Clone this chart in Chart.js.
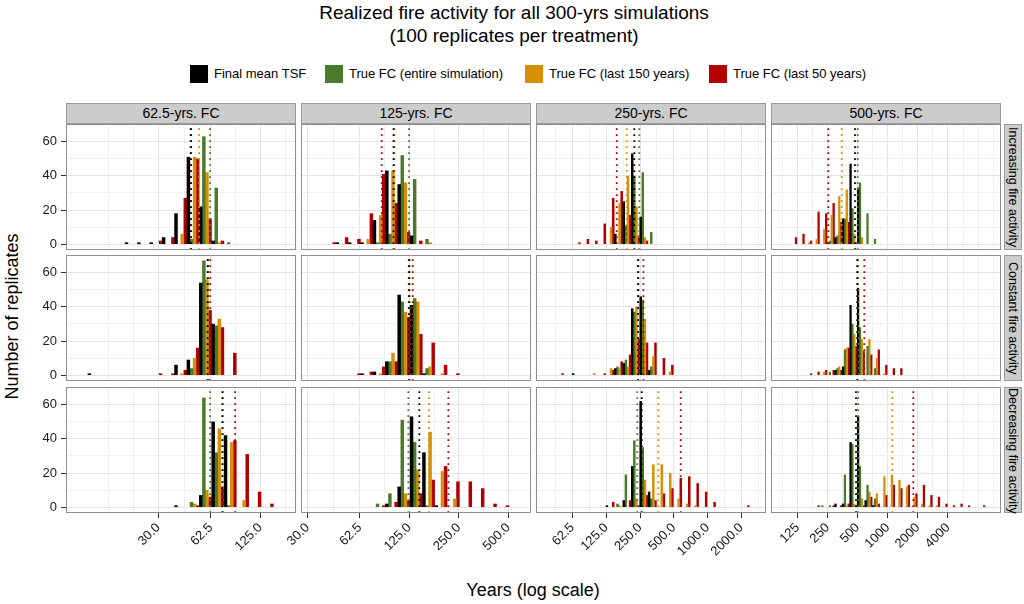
<!DOCTYPE html>
<html><head><meta charset="utf-8">
<script src="https://cdn.jsdelivr.net/npm/chart.js@4.4.1/dist/chart.umd.min.js"></script>
<style>
html,body{margin:0;padding:0;background:#fff;}
body{width:1024px;height:604px;position:relative;overflow:hidden;font-family:"Liberation Sans",Arial,Helvetica,sans-serif;color:#000;}
.abs{position:absolute;}
.title{left:2px;width:1024px;text-align:center;font-size:19px;line-height:23px;}
.key{width:18px;height:18px;}
.ltxt{font-size:13px;line-height:18px;white-space:nowrap;}
.strip{background:#cccccc;border:1px solid #999;box-sizing:border-box;font-size:14px;text-align:center;white-space:nowrap;}
.rstrip{background:#cccccc;border:1px solid #999;box-sizing:border-box;font-size:12.5px;writing-mode:vertical-rl;text-align:center;line-height:16px;white-space:nowrap;overflow:visible;}
</style></head>
<body>
<script>
// ---------------- DATA ----------------
const columnTitles = ["62.5-yrs. FC", "125-yrs. FC", "250-yrs. FC", "500-yrs. FC"];
const rowTitles = ["Increasing fire activity", "Constant fire activity", "Decreasing fire activity"];
const seriesNames = ["Final mean TSF", "True FC (entire simulation)", "True FC (last 150 years)", "True FC (last 50 years)"];
const seriesColors = ["#000000", "#4b7b2a", "#d68f06", "#b20000"];

// histogram bins: centre of first bin (years) per column, bins 1/4 doubling wide
const firstBinYears = [12.19, 40.9, 47.8, 113.2];
const binStepLog2 = 0.25;

// x range (years) per column, y range (replicates)
const xMinYears = [8.24, 27.4, 29.6, 67.9];
const xMaxYears = [206, 687, 3313, 13560];
const yMin = -3.35, yMax = 70.35;

// grid positions (years) and tick labels per column
const gridYears = [
  [15, 21.2, 30, 43.3, 62.5, 88.4, 125, 176.8],
  [30, 43.3, 62.5, 88.4, 125, 176.8, 250, 353.6, 500],
  [44.2, 62.5, 88.4, 125, 176.8, 250, 353.6, 500, 707, 1000, 1414, 2000, 2828],
  [88.4, 125, 176.8, 250, 353.6, 500, 707, 1000, 1414, 2000, 2828, 4000, 5657, 8000, 11314]
];
const tickYears = [
  [30, 62.5, 125],
  [30, 62.5, 125, 250, 500],
  [62.5, 125, 250, 500, 1000, 2000],
  [125, 250, 500, 1000, 2000, 4000]
];
const tickLabels = [
  ["30.0", "62.5", "125.0"],
  ["30.0", "62.5", "125.0", "250.0", "500.0"],
  ["62.5", "125.0", "250.0", "500.0", "1000.0", "2000.0"],
  ["125", "250", "500", "1000", "2000", "4000"]
];
const yGrid = [0, 10, 20, 30, 40, 50, 60, 70];
const yTicks = [0, 20, 40, 60];

// counts per bin: [Final mean TSF, entire simulation, last 150, last 50]
const c62_inc_tsf = [0,0,0,1,1,1,4,18,51,22,2,0,0,0,0];
const c62_inc_all = [0,0,0,0,0,0,0,0,3,63,33,1,0,0,0];
const c62_inc_150 = [0,0,0,0,0,0,0,6,51,42,1,0,0,0,0];
const c62_inc_50  = [0,0,0,0,0,2,4,27,50,15,2,0,0,0,0];
const c62_con_tsf = [1,0,0,0,0,0,0,6,9,54,30,0,0,0,0];
const c62_con_all = [0,0,0,0,0,0,0,0,4,67,29,0,0,0,0];
const c62_con_150 = [0,0,0,0,0,0,0,1,10,56,33,0,0,0,0];
const c62_con_50  = [0,0,0,0,0,1,1,3,16,38,28,13,0,0,0];
const c62_dec_tsf = [0,0,0,0,0,0,0,1,0,7,50,42,0,0,0];
const c62_dec_all = [0,0,0,0,0,0,0,0,3,64,32,1,0,0,0];
const c62_dec_150 = [0,0,0,0,0,0,0,0,2,10,46,38,4,0,0];
const c62_dec_50  = [0,0,0,0,0,0,0,0,1,6,12,39,31,9,2];

const c125_inc_tsf = [0,1,1,1,14,43,35,5,0,0,0,0,0,0,0];
const c125_inc_all = [0,0,0,0,1,6,52,38,3,0,0,0,0,0,0];
const c125_inc_150 = [0,0,0,3,17,43,36,0,1,0,0,0,0,0,0];
const c125_inc_50  = [1,4,3,18,41,24,7,2,0,0,0,0,0,0,0];
const c125_con_tsf = [0,0,0,1,2,8,47,41,1,0,0,0,0,0,0];
const c125_con_all = [0,0,0,0,0,8,43,45,4,0,0,0,0,0,0];
const c125_con_150 = [0,0,0,0,1,13,37,43,5,1,0,0,0,0,0];
const c125_con_50  = [0,0,1,2,5,8,34,24,19,6,1,0,0,0,0];
const c125_dec_tsf = [0,0,0,0,0,2,12,53,32,1,0,0,0,0,0];
const c125_dec_all = [0,0,0,0,2,8,51,38,1,0,0,0,0,0,0];
const c125_dec_150 = [0,0,0,0,0,0,8,22,44,21,5,0,0,0,0];
const c125_dec_50  = [0,0,0,0,1,3,4,8,16,24,15,15,11,2,1];

const c250_inc_tsf = [0,0,0,0,0,0,0,6,25,53,16,0,0,0,0,0,0,0,0,0,0,0,0];
const c250_inc_all = [0,0,0,0,0,0,0,0,11,40,42,7,0,0,0,0,0,0,0,0,0,0,0];
const c250_inc_150 = [0,0,0,0,0,0,10,24,40,22,4,0,0,0,0,0,0,0,0,0,0,0,0];
const c250_inc_50  = [0,0,1,3,2,12,27,31,17,5,2,0,0,0,0,0,0,0,0,0,0,0,0];
const c250_con_tsf = [0,0,1,0,0,0,0,4,7,39,46,3,0,0,0,0,0,0,0,0,0,0,0];
const c250_con_all = [0,0,0,0,0,0,0,5,9,37,44,5,0,0,0,0,0,0,0,0,0,0,0];
const c250_con_150 = [0,0,0,0,1,0,4,4,5,40,33,11,0,2,0,0,0,0,0,0,0,0,0];
const c250_con_50  = [1,0,0,0,0,1,3,8,12,21,19,19,10,6,0,0,0,0,0,0,0,0,0];
const c250_dec_tsf = [0,0,0,0,0,0,1,0,4,24,62,9,0,0,0,0,0,0,0,0,0,0,0];
const c250_dec_all = [0,0,0,0,0,0,0,2,19,39,35,5,0,0,0,0,0,0,0,0,0,0,0];
const c250_dec_150 = [0,0,0,0,0,0,0,1,0,5,16,25,25,20,5,2,1,0,0,0,0,0,0];
const c250_dec_50  = [0,0,0,0,0,0,3,0,4,1,7,4,8,11,17,18,14,9,3,0,0,0,1];

const c500_inc_tsf = [0,0,0,0,0,1,4,15,47,33,0,0,0,0,0,0,0,0,0,0,0,0,0,0,0,0];
const c500_inc_all = [0,0,0,0,0,2,5,15,21,36,18,3,0,0,0,0,0,0,0,0,0,0,0,0,0,0];
const c500_inc_150 = [0,0,1,3,9,17,28,32,6,4,0,0,0,0,0,0,0,0,0,0,0,0,0,0,0,0];
const c500_inc_50  = [4,6,2,19,18,24,13,13,1,0,0,0,0,0,0,0,0,0,0,0,0,0,0,0,0,0];
const c500_con_tsf = [0,0,0,0,0,0,3,5,41,51,0,0,0,0,0,0,0,0,0,0,0,0,0,0,0,0];
const c500_con_all = [0,0,0,0,0,2,4,15,30,28,17,4,0,0,0,0,0,0,0,0,0,0,0,0,0,0];
const c500_con_150 = [0,0,0,0,2,0,5,16,24,21,21,10,1,0,0,0,0,0,0,0,0,0,0,0,0,0];
const c500_con_50  = [0,0,1,2,3,3,3,16,17,14,12,15,6,4,4,0,0,0,0,0,0,0,0,0,0,0];
const c500_dec_tsf = [0,0,0,0,0,0,2,2,38,53,4,1,0,0,0,0,0,0,0,0,0,0,0,0,0,0];
const c500_dec_all = [0,0,0,0,1,1,0,19,37,24,13,5,0,0,0,0,0,0,0,0,0,0,0,0,0,0];
const c500_dec_150 = [0,0,0,0,0,0,0,1,2,5,9,8,18,19,16,12,6,2,1,1,0,0,0,0,0,0];
const c500_dec_50  = [0,0,0,1,0,1,1,2,1,1,6,2,7,13,11,13,8,13,7,6,2,1,2,1,0,1];

// mean values (years) shown as dotted lines: [TSF, entire, last 150, last 50]
const m62_inc = [47.4, 61.9, 53.1, 47.1];
const m62_con = [59.8, 60.2, 60.6, 62.0];
const m62_dec = [73.5, 61.9, 74.3, 87.9];
const m125_inc = [100.2, 124.5, 101.6, 84.9];
const m125_con = [124.0, 125.0, 125.5, 131.0];
const m125_dec = [143.8, 123.3, 164.7, 215.9];
const m250_inc = [222.4, 246.4, 190.4, 155.1];
const m250_con = [240, 241, 243, 268];
const m250_dec = [258.9, 236.6, 363.8, 576];
const m500_inc = [469.9, 500, 345.9, 254.1];
const m500_con = [495, 500, 505, 582];
const m500_dec = [481, 507, 1110, 1799];

const panelCounts = [
  [[c62_inc_tsf,c62_inc_all,c62_inc_150,c62_inc_50],[c125_inc_tsf,c125_inc_all,c125_inc_150,c125_inc_50],[c250_inc_tsf,c250_inc_all,c250_inc_150,c250_inc_50],[c500_inc_tsf,c500_inc_all,c500_inc_150,c500_inc_50]],
  [[c62_con_tsf,c62_con_all,c62_con_150,c62_con_50],[c125_con_tsf,c125_con_all,c125_con_150,c125_con_50],[c250_con_tsf,c250_con_all,c250_con_150,c250_con_50],[c500_con_tsf,c500_con_all,c500_con_150,c500_con_50]],
  [[c62_dec_tsf,c62_dec_all,c62_dec_150,c62_dec_50],[c125_dec_tsf,c125_dec_all,c125_dec_150,c125_dec_50],[c250_dec_tsf,c250_dec_all,c250_dec_150,c250_dec_50],[c500_dec_tsf,c500_dec_all,c500_dec_150,c500_dec_50]]
];
const panelMeans = [
  [m62_inc, m125_inc, m250_inc, m500_inc],
  [m62_con, m125_con, m250_con, m500_con],
  [m62_dec, m125_dec, m250_dec, m500_dec]
];

// ---------------- LAYOUT ----------------
const FONT = "'Liberation Sans', Arial, Helvetica, sans-serif";
const panelLeft = [66, 301, 536, 771];
const panelTop = [124, 255, 387];
const panelW = 230, panelH = 126;
const PAGE_H = 604;
const BOTTOM_SIDE_ROOM = 40;   // room left of bottom-row panels for rotated tick labels

function el(cls, css, text) {
  const d = document.createElement('div');
  d.className = 'abs ' + (cls || '');
  Object.assign(d.style, css);
  if (text !== undefined) d.textContent = text;
  document.body.appendChild(d);
  return d;
}

// Titles
el('title', {top: '1px'}, 'Realized fire activity for all 300-yrs simulations');
el('title', {top: '24px'}, '(100 replicates per treatment)');

// Legend
const keyLeft = [190, 325, 525, 709];
seriesNames.forEach((n, i) => {
  el('key', {left: keyLeft[i] + 'px', top: '65px', background: seriesColors[i]});
  el('ltxt', {left: (keyLeft[i] + 24) + 'px', top: '65px'}, n);
});

// Axis titles
el('', {left: '0px', width: '1066px', top: '580px', textAlign: 'center', fontSize: '18px'}, 'Years (log scale)');
el('', {left: '-88px', top: '306px', width: '200px', textAlign: 'center', fontSize: '18px', transform: 'rotate(-90deg)'}, 'Number of replicates');

// Strips
columnTitles.forEach((t, c) => {
  el('strip', {left: panelLeft[c] + 'px', top: '103px', width: panelW + 'px', height: '21px', lineHeight: '19px'}, t);
});
rowTitles.forEach((t, r) => {
  el('rstrip', {left: '1004px', top: panelTop[r] + 'px', width: '18px', height: panelH + 'px'}, t);
});

// Panel border plugin
const borderPlugin = {
  id: 'panelBorder',
  afterDraw(chart) {
    const a = chart.chartArea, ctx = chart.ctx;
    ctx.save();
    ctx.strokeStyle = '#8f8f8f';
    ctx.lineWidth = 1;
    ctx.strokeRect(a.left + 0.5, a.top + 0.5, a.right - a.left - 1, a.bottom - a.top - 1);
    ctx.restore();
  }
};

Chart.defaults.font.family = FONT;

function makePanel(r, c) {
  const isLeft = c === 0, isBottom = r === 2;
  const extraL = isLeft ? panelLeft[0] : (isBottom ? BOTTOM_SIDE_ROOM : 0);
  const extraB = isBottom ? PAGE_H - (panelTop[2] + panelH) : 0;
  const w = panelW + extraL, h = panelH + extraB;
  const cv = document.createElement('canvas');
  cv.width = w; cv.height = h;
  cv.className = 'abs';
  cv.style.left = (panelLeft[c] - extraL) + 'px';
  cv.style.top = panelTop[r] + 'px';
  cv.style.width = w + 'px'; cv.style.height = h + 'px';
  document.body.appendChild(cv);

  const base = Math.log2(firstBinYears[c]);
  const datasets = [];
  panelCounts[r][c].forEach((arr, s) => {
    datasets.push({
      type: 'bar', label: seriesNames[s],
      data: arr.map((v, i) => ({x: base + i * binStepLog2, y: v === 0 ? null : v})),
      backgroundColor: seriesColors[s], borderWidth: 0, inflateAmount: 0.2,
      barPercentage: 1, categoryPercentage: 1, order: 2
    });
  });
  panelMeans[r][c].forEach((m, s) => {
    datasets.push({
      type: 'line', label: seriesNames[s] + ' mean',
      data: [{x: Math.log2(m), y: yMin}, {x: Math.log2(m), y: yMax}],
      borderColor: seriesColors[s], borderWidth: 1.8, borderDash: [1.8, 4.2],
      pointRadius: 0, fill: false, order: 0
    });
  });

  const gridL = gridYears[c].map(v => Math.log2(v));
  const labelFor = gridYears[c].map(v => {
    const k = tickYears[c].indexOf(v);
    return k >= 0 ? tickLabels[c][k] : '';
  });

  new Chart(cv, {
    type: 'bar',
    data: {datasets},
    plugins: [borderPlugin],
    options: {
      responsive: false, animation: false, events: [],
      devicePixelRatio: 1,
      layout: {padding: 0},
      plugins: {legend: {display: false}, tooltip: {enabled: false}, title: {display: false}},
      scales: {
        x: {
          type: 'linear', offset: false,
          min: Math.log2(xMinYears[c]), max: Math.log2(xMaxYears[c]),
          afterBuildTicks: ax => { ax.ticks = gridL.map(v => ({value: v})); },
          afterFit: ax => { ax.height = extraB; ax.paddingLeft = 0; ax.paddingRight = 0; },
          ticks: {
            display: isBottom, autoSkip: false, minRotation: 45, maxRotation: 45,
            callback: (v, i) => labelFor[i],
            font: {size: 13, family: FONT}, color: '#1a1a1a', padding: 2
          },
          grid: {
            offset: false, drawTicks: isBottom, tickLength: 5, lineWidth: 1,
            color: ctx => (ctx.tick && labelFor[ctx.index]) ? '#e4e4e4' : '#f0f0f0',
            tickColor: ctx => (ctx.tick && labelFor[ctx.index]) ? '#333333' : 'rgba(0,0,0,0)'
          },
          border: {display: false}
        },
        y: {
          type: 'linear', min: yMin, max: yMax,
          afterBuildTicks: ax => { ax.ticks = yGrid.map(v => ({value: v})); },
          afterFit: ax => { ax.width = extraL; ax.paddingTop = 0; ax.paddingBottom = 0; },
          ticks: {
            display: isLeft, autoSkip: false,
            callback: v => yTicks.includes(v) ? String(v) : '',
            font: {size: 13, family: FONT}, color: '#1a1a1a', padding: 4
          },
          grid: {
            drawTicks: isLeft, tickLength: 5, lineWidth: 1,
            color: ctx => (ctx.tick && yTicks.includes(ctx.tick.value)) ? '#e4e4e4' : '#f0f0f0',
            tickColor: ctx => (ctx.tick && yTicks.includes(ctx.tick.value)) ? '#333333' : 'rgba(0,0,0,0)'
          },
          border: {display: false}
        }
      }
    }
  });
}

for (let r = 0; r < 3; r++) for (let c = 0; c < 4; c++) makePanel(r, c);
</script>
</body></html>
